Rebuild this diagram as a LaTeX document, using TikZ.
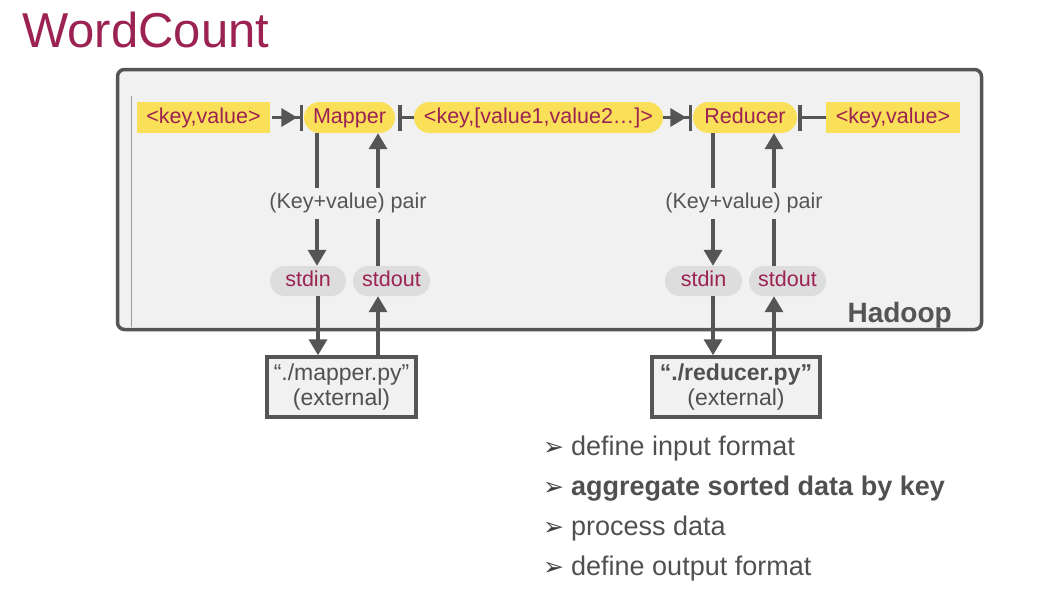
\documentclass[tikz,border=0pt]{standalone}
\usepackage{fontspec}
\setmainfont{Liberation Sans}
\newfontfamily\dejavu{DejaVu Sans}
\usetikzlibrary{arrows.meta}
\definecolor{maroon}{RGB}{155,34,82}
\definecolor{hyellow}{RGB}{250,224,88}
\definecolor{hfill}{RGB}{241,241,241}
\definecolor{hline}{RGB}{85,85,85}
\definecolor{pillgray}{RGB}{221,221,221}
\definecolor{txtgray}{RGB}{80,80,80}
\newcommand{\bul}{\makebox[28pt][l]{\color{black!75}\dejavu\fontsize{25}{28}\selectfont ➢}}
\begin{document}
\begin{tikzpicture}[x=1pt,y=-1pt,
  lbl/.style={font=\fontsize{21.5}{24}\selectfont, text=maroon, inner sep=0pt, minimum height=31pt, text height=15.5pt, text depth=4.5pt},
  ybox/.style={lbl, fill=hyellow},
  ypill/.style={lbl, fill=hyellow, rounded corners=15.5pt},
  gpill/.style={lbl, fill=pillgray, rounded corners=15pt, minimum height=30pt},
  conn/.style={draw=hline, line width=3.5pt},
  arr/.style={conn, -{Triangle[length=16pt,width=18pt]}},
  arrbar/.style={conn, -{Triangle[length=16pt,width=18pt,sep=2.5pt]Bar[width=26pt]}},
  barline/.style={conn, {Bar[width=26pt]}-},
  pairlbl/.style={font=\fontsize{21.5}{24}\selectfont, text=hline, fill=hfill, inner xsep=2pt, inner ysep=0pt, minimum height=31pt, text height=15.5pt, text depth=4.5pt},
  extbox/.style={draw=hline, line width=3.5pt, fill=hfill, align=center, font=\fontsize{23}{25}\selectfont, text=txtgray, minimum height=60pt, inner sep=0pt},
  bullet/.style={anchor=base west, font=\fontsize{27}{30}\selectfont, text=txtgray, inner sep=0pt}
]
\useasboundingbox (0,0) rectangle (1046,606);

% title
\node[anchor=base west, inner sep=0pt, font=\fontsize{49}{52}\selectfont, text=maroon] (title) at (22,47) {WordCount};

% Hadoop container
\node[draw=hline, line width=3.5pt, fill=hfill, rounded corners=7pt, minimum width=864pt, minimum height=260pt, inner sep=0pt] (hadoop) at (549.5,199.5) {};
\draw[black!40, line width=0.8pt] (131,96) -- (131,327);
\node[anchor=base east, inner sep=0pt, font=\bfseries\fontsize{28}{30}\selectfont, text=hline] (hlabel) at (952,322) {Hadoop};

% top row
\node[ybox, minimum width=133pt] (kv1) at (203.5,117.5) {<key,value>};
\node[ypill, minimum width=91pt] (mapper) at (349.5,117.5) {Mapper};
\node[ypill, minimum width=249pt] (kvl) at (538.5,117.5) {<key,[value1,value2…]>};
\node[ypill, minimum width=104pt] (reducer) at (745,117.5) {Reducer};
\node[ybox, minimum width=134pt] (kv2) at (893,117.5) {<key,value>};

\draw[arrbar] ([xshift=2pt]kv1.east) -- ([xshift=-0.5pt]mapper.west);
\draw[barline] ([xshift=3pt]mapper.east) -- (kvl.west);
\draw[arrbar] (kvl.east) -- ([xshift=-0.5pt]reducer.west);
\draw[barline] ([xshift=1pt]reducer.east) -- (kv2.west);

% std pills
\node[gpill, minimum width=76pt] (stdin1) at (308,281) {stdin};
\node[gpill, minimum width=77pt] (stdout1) at (391.5,281) {stdout};
\node[gpill, minimum width=77pt] (stdin2) at (703.5,281) {stdin};
\node[gpill, minimum width=77pt] (stdout2) at (787.5,281) {stdout};

% external boxes
\node[extbox, minimum width=149pt] (mpy) at (341.5,387) {“./mapper.py”\\(external)};
\node[extbox, minimum width=168pt] (rpy) at (736,387) {\textbf{“./reducer.py”}\\(external)};

% vertical connectors (mapper)
\draw[arr] ([xshift=-32.5pt]mapper.south) -- ([xshift=9pt]stdin1.north);
\draw[arr] ([xshift=-13.5pt]stdout1.north) -- ([xshift=28.5pt]mapper.south);
\draw[arr] ([xshift=10pt]stdin1.south) -- ([xshift=-23.5pt]mpy.north);
\draw[arr] ([xshift=36.5pt]mpy.north) -- ([xshift=-13.5pt]stdout1.south);

% vertical connectors (reducer)
\draw[arr] ([xshift=-32pt]reducer.south) -- ([xshift=9.5pt]stdin2.north);
\draw[arr] ([xshift=-13.5pt]stdout2.north) -- ([xshift=29pt]reducer.south);
\draw[arr] ([xshift=9.5pt]stdin2.south) -- ([xshift=-23pt]rpy.north);
\draw[arr] ([xshift=38pt]rpy.north) -- ([xshift=-13.5pt]stdout2.south);

% pair labels
\node[pairlbl] (pair1) at (348,203) {(Key+value) pair};
\node[pairlbl] (pair2) at (744,203) {(Key+value) pair};

% bullets
\node[bullet] (b1) at (543,455) {\bul define input format};
\node[bullet] (b2) at (543,495) {\bul\textbf{aggregate sorted data by key}};
\node[bullet] (b3) at (543,535) {\bul process data};
\node[bullet] (b4) at (543,575) {\bul define output format};
\end{tikzpicture}
\end{document}
